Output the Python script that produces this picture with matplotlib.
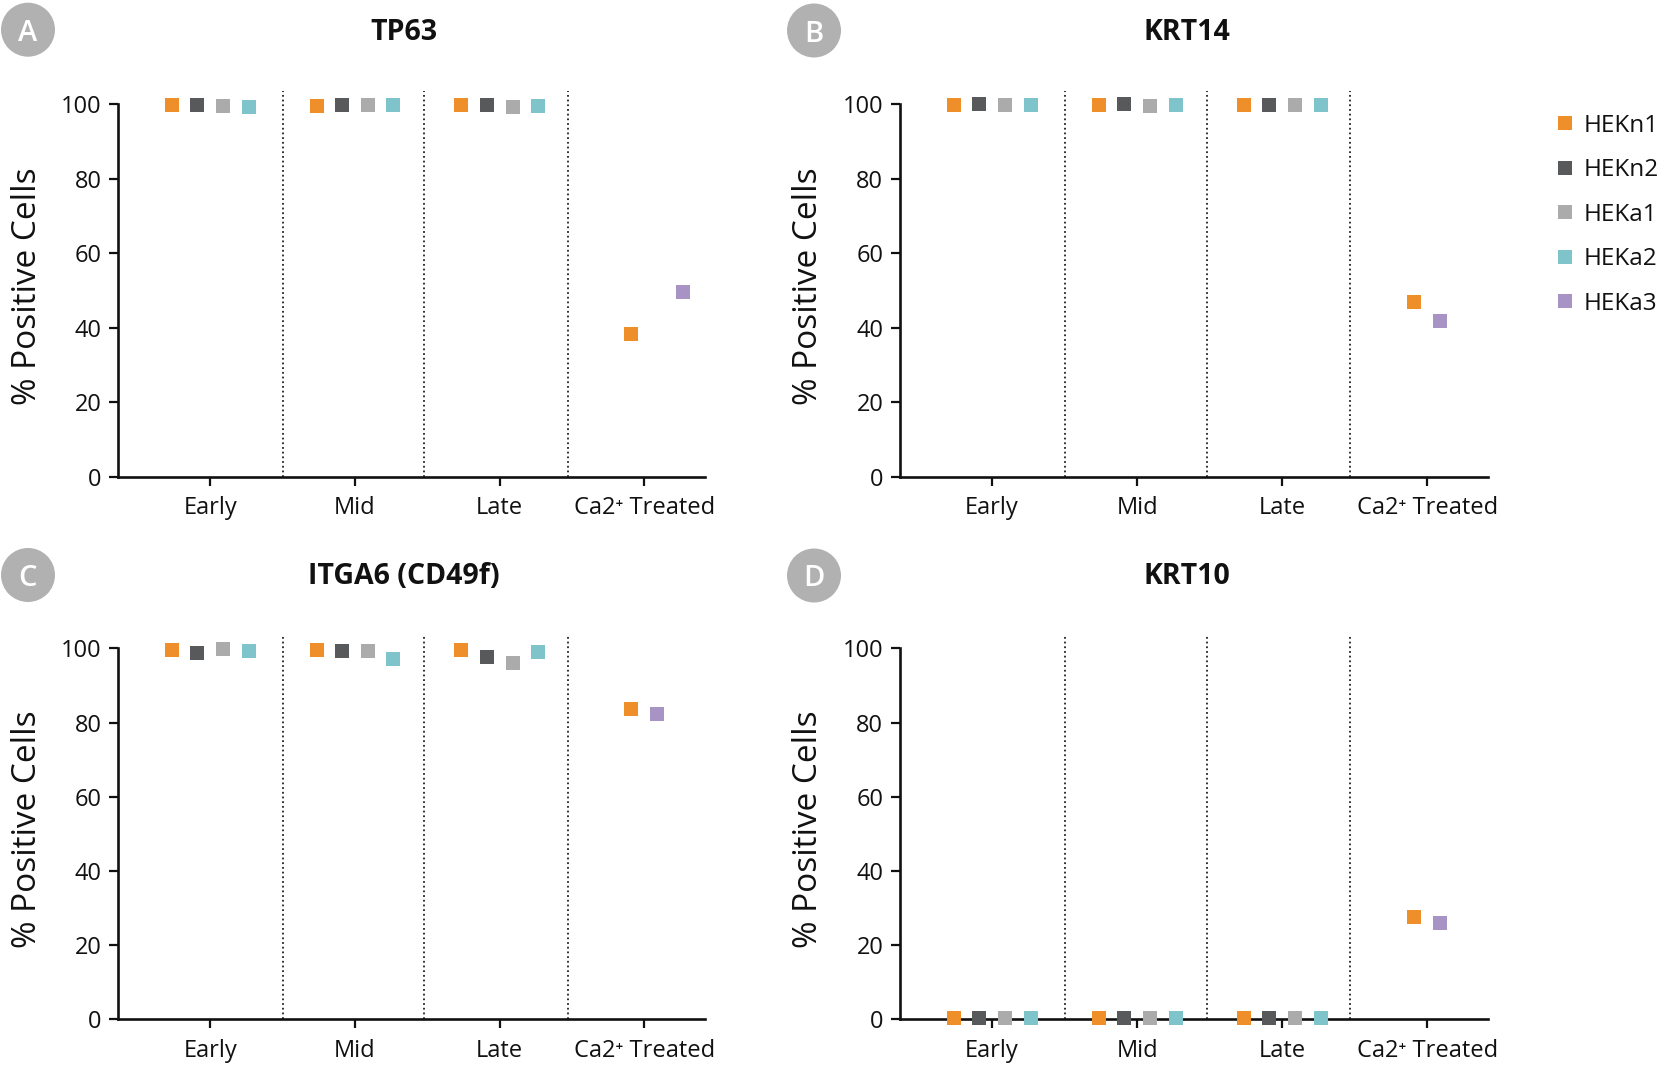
import numpy as np
import matplotlib
matplotlib.use("Agg")
import matplotlib.pyplot as plt
from matplotlib.lines import Line2D
from matplotlib.patches import Ellipse

plt.rcParams['font.family'] = ['Open Sans', 'DejaVu Sans']

# ---------------- data ----------------
groups = ["Early", "Mid", "Late", "Ca2\u207a Treated"]
series = ["HEKn1", "HEKn2", "HEKa1", "HEKa2", "HEKa3"]
colors = ["#EF8F29", "#58595B", "#ABABAB", "#80C4CB", "#A893C5"]

nan = np.nan
titles = ["TP63", "KRT14", "ITGA6 (CD49f)", "KRT10"]
letters = ["A", "B", "C", "D"]

tp63_HEKn1 = [99.7, 99.6, 99.7, 38.4]
tp63_HEKn2 = [99.7, 99.7, 99.7, nan]
tp63_HEKa1 = [99.6, 99.7, 99.4, nan]
tp63_HEKa2 = [99.4, 99.9, 99.5, nan]
tp63_HEKa3 = [nan, nan, nan, 49.7]

krt14_HEKn1 = [99.9, 99.9, 99.9, 46.9]
krt14_HEKn2 = [100.0, 100.0, 99.9, nan]
krt14_HEKa1 = [99.8, 99.6, 99.8, nan]
krt14_HEKa2 = [99.8, 99.8, 99.8, nan]
krt14_HEKa3 = [nan, nan, nan, 41.8]

itga6_HEKn1 = [99.5, 99.6, 99.6, 83.6]
itga6_HEKn2 = [98.7, 99.4, 97.7, nan]
itga6_HEKa1 = [99.7, 99.2, 96.0, nan]
itga6_HEKa2 = [99.3, 97.2, 99.0, nan]
itga6_HEKa3 = [nan, nan, nan, 82.4]

krt10_HEKn1 = [0.3, 0.3, 0.3, 27.6]
krt10_HEKn2 = [0.3, 0.3, 0.3, nan]
krt10_HEKa1 = [0.3, 0.3, 0.3, nan]
krt10_HEKa2 = [0.3, 0.3, 0.3, nan]
krt10_HEKa3 = [nan, nan, nan, 26.0]

panels = [
    [tp63_HEKn1, tp63_HEKn2, tp63_HEKa1, tp63_HEKa2, tp63_HEKa3],
    [krt14_HEKn1, krt14_HEKn2, krt14_HEKa1, krt14_HEKa2, krt14_HEKa3],
    [itga6_HEKn1, itga6_HEKn2, itga6_HEKa1, itga6_HEKa2, itga6_HEKa3],
    [krt10_HEKn1, krt10_HEKn2, krt10_HEKa1, krt10_HEKa2, krt10_HEKa3],
]

# ---------------- layout ----------------
W, H = 1677, 1075
fig = plt.figure(figsize=(W / 100, H / 100), dpi=100)

# axes rectangles in pixels: left, right, top(y=100), bottom(y=0)
rects_px = [(118.3, 705.0, 104.3, 476.8), (900.0, 1488.0, 104.3, 476.8),
            (118.3, 705.0, 648.3, 1019.3), (900.0, 1488.0, 648.3, 1019.3)]
badge_px = [(28, 29.7), (814, 30.5), (28, 575), (814, 575.5)]

# offsets of series within a group (Early/Mid/Late)
base_off = [-0.265, -0.09, 0.09, 0.265]
# offsets of the two Ca2+ series (HEKn1, HEKa3)
ca_off = [(-0.09, 0.27), (-0.09, 0.09), (-0.09, 0.09), (-0.09, 0.09)]
dividers = [0.5, 1.48, 2.47]

for i, (vals, (l, r, t, b)) in enumerate(zip(panels, rects_px)):
    ax = fig.add_axes([l / W, 1 - b / H, (r - l) / W, (b - t) / H])
    x = np.arange(len(groups), dtype=float)
    for s, (name, col) in enumerate(zip(series, colors)):
        xs = []
        for g in range(len(groups)):
            if g < 3:
                off = base_off[s] if s < 4 else 0.0
            else:
                off = ca_off[i][0] if s == 0 else ca_off[i][1]
            xs.append(x[g] + off)
        ax.plot(xs, vals[s], linestyle='none', marker='s', ms=9.7,
                mew=0, color=col, clip_on=False, zorder=5)
    for d in dividers:
        ax.plot([d, d], [0, 103.5], color='#222222', lw=1.3,
                linestyle=(0, (1, 1.6)), clip_on=False, zorder=2)
    ax.set_xlim(-0.635, 3.42)
    ax.set_ylim(0, 100)
    ax.set_yticks([0, 20, 40, 60, 80, 100])
    ax.set_xticks(x)
    ax.set_xticklabels(groups)
    for sp in ['top', 'right']:
        ax.spines[sp].set_visible(False)
    for sp in ['left', 'bottom']:
        ax.spines[sp].set_linewidth(1.9)
        ax.spines[sp].set_color('#111111')
    ax.tick_params(axis='both', direction='out', length=6.5, width=1.6,
                   color='#111111', labelsize=17, labelcolor='#111111')
    ax.tick_params(axis='y', pad=5.5)
    ax.tick_params(axis='x', pad=7.5)
    ax.set_ylabel("% Positive Cells", fontsize=24, color='#111111', va='center')
    ax.yaxis.set_label_coords(-91 / (r - l), 0.513)
    ax.set_title(titles[i], fontsize=20.5, fontweight='bold', pad=46,
                 color='#111111', x=0.5 - 7.5 / (r - l))

    cx, cy = badge_px[i]
    rad = 27
    fig.add_artist(Ellipse((cx / W, 1 - cy / H), 2 * rad / W, 2 * rad / H,
                           transform=fig.transFigure, facecolor='#B1B1B1',
                           edgecolor='none'))
    fig.text(cx / W, 1 - cy / H, letters[i], ha='center', va='center_baseline',
             fontsize=21, color='white', fontweight='semibold')

handles = [Line2D([], [], linestyle='none', marker='s', ms=9.7, mew=0, color=c)
           for c in colors]
fig.legend(handles, series, loc='center left',
           bbox_to_anchor=(1555.5 / W, 1 - 214.7 / H), frameon=False,
           fontsize=17.5, handlelength=0.75, handletextpad=0.4,
           labelspacing=0.84, borderpad=0, borderaxespad=0,
           labelcolor='#111111')

fig.savefig("out.png", dpi=100)
